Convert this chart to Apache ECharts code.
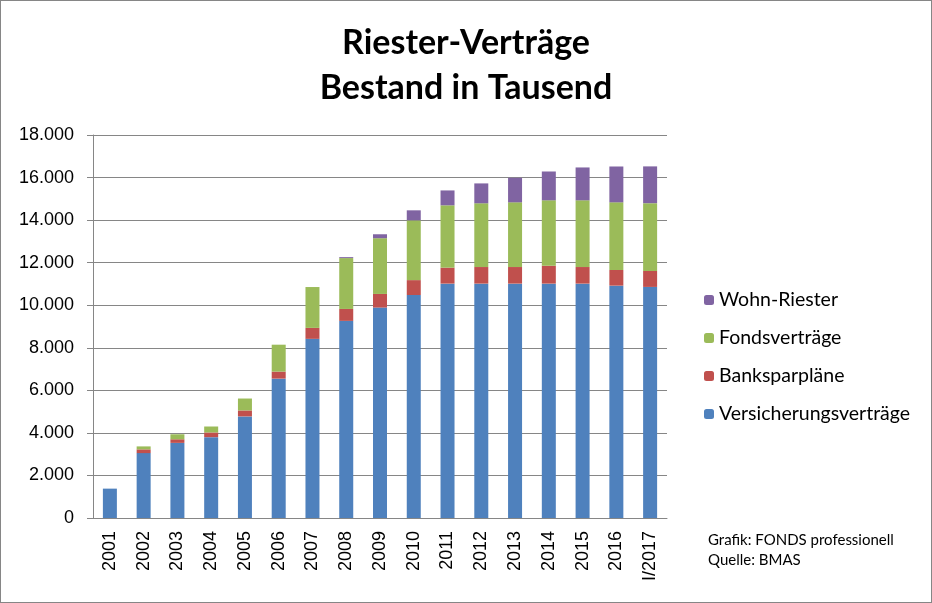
<!DOCTYPE html>
<html><head><meta charset="utf-8">
<script src="https://cdn.jsdelivr.net/npm/echarts@6/dist/echarts.min.js"></script>
<style>html,body{margin:0;padding:0;background:#fff}#c{width:930px;height:601px;border:1px solid #868686}</style>
</head><body><div id="c"></div>
<script>
const categories = ['2001','2002','2003','2004','2005','2006','2007','2008','2009','2010','2011','2012','2013','2014','2015','2016','I/2017'];
const versicherung = [1380,3050,3530,3800,4775,6550,8420,9265,9890,10480,11015,11015,11015,11015,11015,10920,10860];
const banksparplaene = [0,175,170,220,280,330,515,560,640,700,750,780,780,840,780,735,750];
const fonds = [0,140,235,280,560,1265,1920,2390,2620,2810,2930,2995,3040,3075,3135,3180,3185];
const wohnRiester = [0,0,0,0,0,0,0,45,185,470,700,935,1155,1355,1545,1685,1730];
const yTicks = [0,2000,4000,6000,8000,10000,12000,14000,16000,18000];
const fontF = 'Lato, "Open Sans", sans-serif';
const axisF = '"Liberation Sans", Arial, sans-serif';
const chart = echarts.init(document.getElementById('c'));
const mk = (name, data, color) => ({name, type:'bar', stack:'a', data, barWidth:14, itemStyle:{color}, emphasis:{disabled:true}});
chart.setOption({
  animation:false,
  title:{text:'Riester-Verträge\nBestand in Tausend', left:'center', top:15,
    textStyle:{fontFamily:fontF, fontWeight:'bold', fontSize:34, lineHeight:45, color:'#000'}},
  grid:{left:92, right:264, top:134, bottom:84},
  legend:{orient:'vertical', left:698, top:284, itemWidth:10, itemHeight:10, itemGap:18, itemStyle:{borderWidth:0},
    data:['Wohn-Riester','Fondsverträge','Banksparpläne','Versicherungsverträge'],
    textStyle:{fontFamily:fontF, fontSize:19.5, color:'#000'}},
  graphic:[
    {type:'text', left:707, top:532, style:{text:'Grafik: FONDS professionell', font:'15px '+fontF, fill:'#000'}},
    {type:'text', left:707, top:552, style:{text:'Quelle: BMAS', font:'15px '+fontF, fill:'#000'}}
  ],
  xAxis:{type:'category', data:categories,
    axisLine:{lineStyle:{color:'#868686'}},
    axisTick:{length:6, lineStyle:{color:'#868686'}},
    axisLabel:{rotate:90, fontFamily:axisF, fontSize:18, color:'#000', margin:13, interval:0}},
  yAxis:{type:'value', min:yTicks[0], max:yTicks[yTicks.length-1], interval:2000,
    axisLine:{show:true, lineStyle:{color:'#868686'}},
    axisTick:{show:true, length:6, lineStyle:{color:'#868686'}},
    splitLine:{lineStyle:{color:'#868686'}},
    axisLabel:{fontFamily:axisF, fontSize:18, color:'#000', margin:19,
      formatter:v=>v===0?'0':v.toLocaleString('de-DE')}},
  series:[
    mk('Versicherungsverträge', versicherung, '#4F81BD'),
    mk('Banksparpläne', banksparplaene, '#C0504D'),
    mk('Fondsverträge', fonds, '#9BBB59'),
    mk('Wohn-Riester', wohnRiester, '#8064A2')
  ]
});
</script></body></html>
